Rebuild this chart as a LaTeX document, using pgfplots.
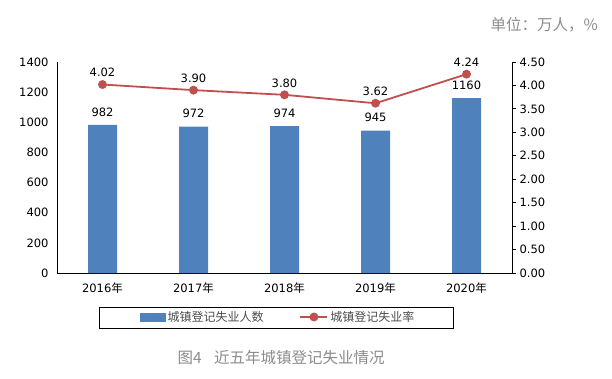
\documentclass[border=0pt]{standalone}
\usepackage{pgfplots}
\pgfplotsset{compat=1.18}
\usepackage{fontspec}
\setmainfont{DejaVu Sans}
\newfontfamily\cjk{Noto Sans CJK SC}
\definecolor{barblue}{HTML}{4F81BD}
\definecolor{linered}{HTML}{C0504D}
\definecolor{captgray}{HTML}{8C8C8C}
\pgfplotsset{/pgf/number format/assume math mode=true}
\begin{document}
\begin{tikzpicture}[x=1pt,y=1pt]
\useasboundingbox (0,0) rectangle (612,378);
\begin{axis}[
  at={(57pt,105pt)}, anchor=south west, scale only axis,
  width=455pt, height=211pt,
  xmin=-0.5, xmax=4.5, ymin=0, ymax=1400,
  axis x line*=bottom, axis y line*=left,
  axis line style={line width=0.8pt, -},
  xtick={0,1,2,3,4},
  xticklabels={2016{\cjk 年},2017{\cjk 年},2018{\cjk 年},2019{\cjk 年},2020{\cjk 年}},
  ytick={0,200,...,1400},
  major tick length=0pt,
  /pgf/number format/set thousands separator={},
  ticklabel style={font=\fontsize{11.5}{13}\selectfont, text=black},
  yticklabel style={xshift=-5pt},
  xticklabel style={yshift=-6pt},
  clip=false,
]
\addplot[ybar, bar width=29pt, fill=barblue, draw=none,
  nodes near coords,
  every node near coord/.append style={font=\fontsize{11.5}{13}\selectfont, anchor=center, yshift=13pt}]
  coordinates {(0,982) (1,972) (2,974) (3,945) (4,1160)};
\end{axis}
\begin{axis}[
  at={(57pt,105pt)}, anchor=south west, scale only axis,
  width=455pt, height=211pt,
  xmin=-0.5, xmax=4.5, ymin=0, ymax=4.5,
  axis y line*=right, axis x line=none,
  axis line style={line width=0.8pt, -},
  ytick={0,0.5,...,4.5},
  tick align=outside, major tick length=4pt,
  tick style={line width=0.8pt, black},
  yticklabel={\pgfmathprintnumber[fixed,fixed zerofill,precision=2]{\tick}},
  ticklabel style={font=\fontsize{11.5}{13}\selectfont, text=black},
  clip=false,
  legend columns=2,
  legend style={at={(0.1758,-0.2085)}, anchor=west, draw=none, fill=none,
    font=\cjk\fontsize{12}{14}\selectfont, text=black!70,
    /tikz/every even column/.append style={column sep=34pt}},
]
\addlegendimage{legend image code/.code={\fill[barblue] (0pt,-4pt) rectangle (25pt,4pt);}}
\addlegendentry{城镇登记失业人数}
\addplot[color=linered, line width=1.8pt, mark=*, mark size=3.5pt,
  mark options={fill=linered, draw=linered},
  legend image code/.code={\draw[linered, line width=1.8pt] (0pt,0pt) -- (27pt,0pt); \fill[linered] (13.5pt,0pt) circle (3.5pt);},
  nodes near coords={\pgfmathprintnumber[fixed,fixed zerofill,precision=2]{\pgfplotspointmeta}},
  every node near coord/.append style={font=\fontsize{11.5}{13}\selectfont, text=black, anchor=center, yshift=12pt}]
  coordinates {(0,4.02) (1,3.90) (2,3.80) (3,3.62) (4,4.24)};
\addlegendentry{城镇登记失业率}
\end{axis}
\draw[line width=0.9pt] (99,50) rectangle (453,71);
\node[anchor=east, text=captgray, font=\cjk\fontsize{15.5}{17}\selectfont, inner sep=0pt] at (598,353) {单位：万人，\%};
\node[text=captgray, font=\cjk\fontsize{15.5}{17}\selectfont, inner sep=0pt] at (281,20) {图4\hspace{0.8em}近五年城镇登记失业情况};
\end{tikzpicture}
\end{document}
